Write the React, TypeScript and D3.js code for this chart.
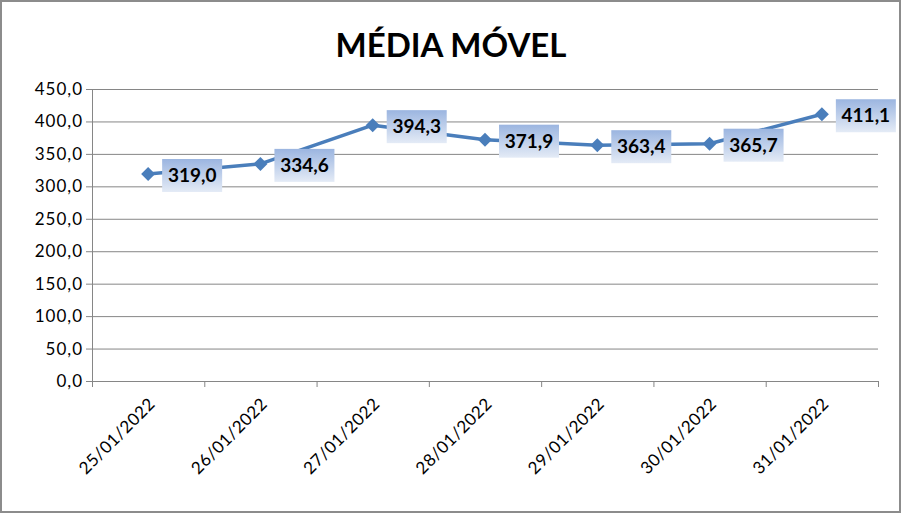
import React from "react";
import * as d3 from "d3";

const categories = ["25/01/2022", "26/01/2022", "27/01/2022", "28/01/2022", "29/01/2022", "30/01/2022", "31/01/2022"];
const values = [319.0, 334.6, 394.3, 371.9, 363.4, 365.7, 411.1];
const yTicks = [0, 50, 100, 150, 200, 250, 300, 350, 400, 450];
const title = "MÉDIA MÓVEL";

const W = 902, H = 514;
const plot = { left: 92, right: 878, top: 89, bottom: 381 };
const fmt = (v: number) => v.toFixed(1).replace(".", ",");
const FONT = "Lato, 'Open Sans', sans-serif";

export default function App() {
  const x = d3.scaleBand<string>().domain(categories).range([plot.left, plot.right]).paddingInner(0).paddingOuter(0);
  const y = d3.scaleLinear().domain([0, 450]).range([plot.bottom, plot.top]);
  const cx = (c: string) => (x(c) as number) + x.bandwidth() / 2;
  const line = d3.line<number>().x((_, i) => cx(categories[i])).y((d) => y(d));
  const edges = categories.map((c) => x(c) as number).concat([plot.right]);

  return (
    <div style={{ position: "absolute", left: 0, top: 0 }}>
      <svg width={W} height={H} style={{ display: "block" }}>
        <defs>
          <linearGradient id="lbl" x1="0" y1="0" x2="0" y2="1">
            <stop offset="0" stopColor="#9bb5e0" />
            <stop offset="1" stopColor="#e4ebf6" />
          </linearGradient>
        </defs>
        <rect x={0} y={0} width={W} height={H} fill="#fff" />
        <rect x={1} y={1} width={W - 3} height={H - 3} fill="none" stroke="#8c8c8c" strokeWidth={2} />
        <text x={451} y={57} textAnchor="middle" fontFamily={FONT} fontWeight="bold" fontSize={33} fill="#000">{title}</text>
        {yTicks.map((t) => (
          <g key={t}>
            <line x1={plot.left - 6} x2={plot.right} y1={y(t) + 0.5} y2={y(t) + 0.5} stroke="#868686" strokeWidth={1} />
            <text x={83} y={y(t) + 6} textAnchor="end" fontFamily={FONT} fontSize={17} letterSpacing={1} fill="#000">{fmt(t)}</text>
          </g>
        ))}
        <line x1={plot.left + 0.5} x2={plot.left + 0.5} y1={plot.top} y2={plot.bottom} stroke="#868686" />
        {edges.map((e, i) => (
          <line key={i} x1={e + 0.5} x2={e + 0.5} y1={plot.bottom} y2={plot.bottom + 6} stroke="#868686" />
        ))}
        {categories.map((c) => (
          <text key={c} transform={`translate(${cx(c) + 8},${plot.bottom + 24}) rotate(-45)`} textAnchor="end" fontFamily={FONT} fontSize={17} letterSpacing={0.5} fill="#000">{c}</text>
        ))}
        <path d={line(values) || ""} fill="none" stroke="#4a7ebb" strokeWidth={3.5} strokeLinejoin="round" />
        {values.map((v, i) => {
          const px = cx(categories[i]), py = y(v);
          return (
            <path key={i} d={`M${px},${py - 7}L${px + 7},${py}L${px},${py + 7}L${px - 7},${py}Z`} fill="#4a7ebb" />
          );
        })}
        {values.map((v, i) => {
          const px = cx(categories[i]), py = y(v);
          return (
            <g key={"l" + i}>
              <rect x={px + 14} y={py - 15} width={60} height={33} fill="url(#lbl)" />
              <text x={px + 44} y={py + 8} textAnchor="middle" fontFamily={FONT} fontWeight="bold" fontSize={19} fill="#000">{fmt(v)}</text>
            </g>
          );
        })}
      </svg>
    </div>
  );
}
